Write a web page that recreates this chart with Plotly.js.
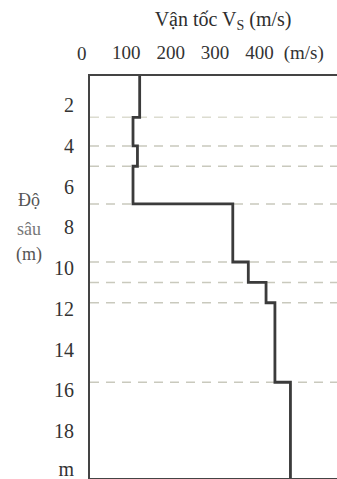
<!DOCTYPE html>
<html>
<head>
<meta charset="utf-8">
<script src="https://cdn.plot.ly/plotly-3.0.1.min.js"></script>
<style>html,body{margin:0;padding:0;background:#fff;}#chart{width:337px;height:479px;}</style>
</head>
<body>
<div id="chart"></div>
<script>
// Layer boundaries (depth, m) and shear-wave velocity in each layer (m/s)
const layerBoundaries = [0, 2.6, 4.0, 5.0, 6.85, 9.7, 10.7, 11.7, 15.6, 20.3];
const layerVelocities = [130, 115, 125, 115, 340, 375, 415, 435, 470];
// Interfaces drawn as dashed lines
const interfaceDepths = [2.6, 4.0, 5.0, 6.85, 9.7, 10.7, 11.7, 15.6];
// Tick labels
const xTickVals = [100, 200, 300, 400, 500];
const xTickText = ['100', '200', '300', '400', '(m/s)'];
const yTickVals = [2, 4, 6, 8, 10, 12, 14, 16, 18, 19.85];
const yTickText = ['2', '4', '6', '8', '10', '12', '14', '16', '18', 'm'];

const px = [], py = [];
for (let i = 0; i < layerVelocities.length; i++) {
  px.push(layerVelocities[i], layerVelocities[i]);
  py.push(layerBoundaries[i], layerBoundaries[i + 1]);
}

const serif = 'Times New Roman';

const shapes = interfaceDepths.map((d, i) => ({
  type: 'line', xref: 'paper', x0: 0, x1: 1, yref: 'y', y0: d, y1: d,
  line: {color: i === 0 ? '#dcdcd0' : '#c9c9bd', width: 1.5, dash: '9px,7px'},
  layer: 'below'
}));

const data = [{
  type: 'scatter', mode: 'lines', x: px, y: py,
  line: {color: '#3b3b3b', width: 2.8},
  hoverinfo: 'skip', showlegend: false
}];

const layout = {
  width: 337, height: 479,
  margin: {l: 90, r: 0, t: 76, b: 1},
  paper_bgcolor: '#ffffff', plot_bgcolor: '#ffffff',
  showlegend: false,
  font: {family: serif},
  title: {
    text: 'Vận tốc V<sub>S</sub> (m/s)',
    font: {family: serif, size: 20, color: '#2e2e2e'},
    xref: 'container', x: 0.662, xanchor: 'center',
    yref: 'container', y: 0.96, yanchor: 'middle'
  },
  xaxis: {
    side: 'top', range: [18, 575], fixedrange: true,
    tickvals: xTickVals, ticktext: xTickText,
    tickfont: {family: serif, size: 19, color: '#333'},
    ticks: '', ticklabelstandoff: 7, ticklabeloverflow: 'allow',
    showgrid: false, zeroline: false,
    showline: true, mirror: true, linecolor: '#444', linewidth: 2
  },
  yaxis: {
    range: [20.3, 0.57], fixedrange: true,
    tickvals: yTickVals, ticktext: yTickText,
    tickfont: {family: serif, size: 20, color: '#333'},
    ticks: '', ticklabelstandoff: 10, ticklabeloverflow: 'allow',
    showgrid: false, zeroline: false,
    showline: true, mirror: false, linecolor: '#444', linewidth: 2
  },
  shapes: shapes,
  annotations: [
    {text: '0', xref: 'paper', x: -0.032, xanchor: 'center', yref: 'paper', y: 1.055, yanchor: 'middle', showarrow: false, font: {family: serif, size: 19, color: '#333'}},
    {text: 'Độ', xref: 'paper', x: -0.247, xanchor: 'center', yref: 'paper', y: 0.6915, yanchor: 'middle', showarrow: false, font: {family: serif, size: 18, color: '#555'}},
    {text: 'sâu', xref: 'paper', x: -0.247, xanchor: 'center', yref: 'paper', y: 0.619, yanchor: 'middle', showarrow: false, font: {family: serif, size: 18, color: '#777'}},
    {text: '(m)', xref: 'paper', x: -0.247, xanchor: 'center', yref: 'paper', y: 0.555, yanchor: 'middle', showarrow: false, font: {family: serif, size: 18, color: '#555'}}
  ]
};

Plotly.newPlot('chart', data, layout, {displayModeBar: false, staticPlot: true});
</script>
</body>
</html>
